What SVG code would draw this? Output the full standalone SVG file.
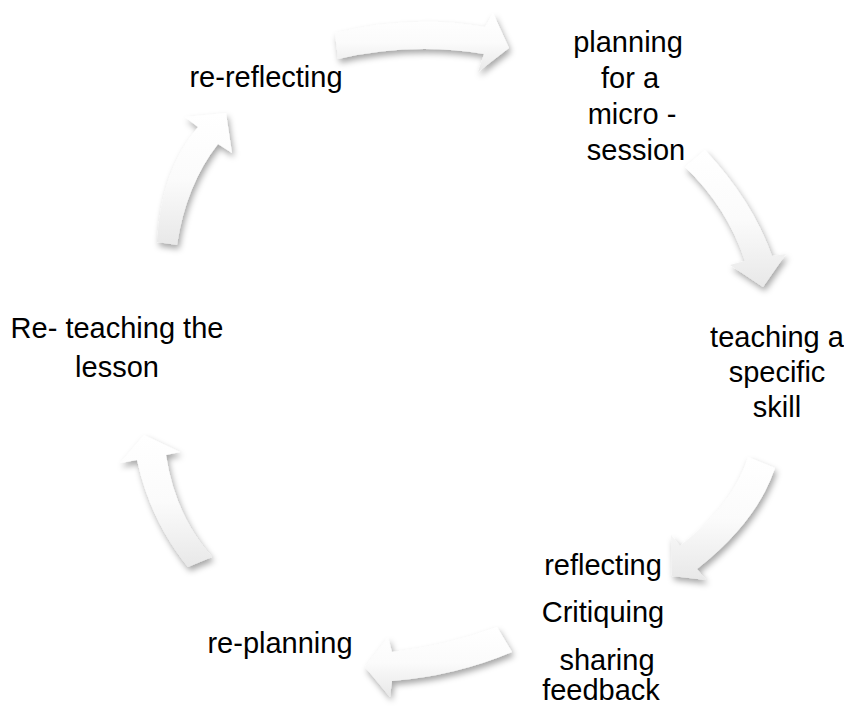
<svg xmlns="http://www.w3.org/2000/svg" width="844" height="710" viewBox="0 0 844 710">
  <style>
    .lbl { font-family: "Liberation Sans", Arial, sans-serif; font-size: 29px; fill: #000; text-anchor: middle; }
    .arr { fill: url(#g); filter: url(#sh); }
  </style>
  <defs>
    <linearGradient id="g" x1="0" y1="0" x2="0" y2="1">
      <stop offset="0" stop-color="#ffffff"/>
      <stop offset="0.5" stop-color="#fbfbfb"/>
      <stop offset="1" stop-color="#e8e8e8"/>
    </linearGradient>
    <filter id="sh" x="-30%" y="-30%" width="160%" height="160%">
      <feDropShadow dx="2" dy="4" stdDeviation="3" flood-color="#000" flood-opacity="0.35"/>
    </filter>
  </defs>
  <rect width="844" height="710" fill="#fff"/>

  <g id="connectors">
    <path class="arr" d="M335,33 Q412,14 485,27 L493,13 L509,48 L478,72 L484,54 Q412,42 338,59 Z"/>
    <path class="arr" d="M685,167 L705,150 Q752,200 772,256 L786,254 L763,287 L730,265 L745,261 Q727,207 685,167 Z"/>
    <path class="arr" d="M748,457 L775,468 Q757,522 697,569 L706,580 L672,576 L671,535 L680,546 Q733,505 748,457 Z"/>
    <path class="arr" d="M497,627 L512,652 Q455,676 392,681 L390,697 L365,667 L388,637 L392,652 Q445,646 497,627 Z"/>
    <path class="arr" d="M188,567 Q150,520 137,460 L120,463 L144,435 L180,452 L166,455 Q175,515 212,557 Z"/>
    <path class="arr" d="M157,242 Q161,170 198,127 L185,117 L226,113 L232,153 L218,144 Q186,185 177,245 Z"/>
  </g>

  <g id="node-planning">
    <text class="lbl" x="628" y="52">planning</text>
    <text class="lbl" x="630" y="88">for a</text>
    <text class="lbl" x="632" y="124">micro -</text>
    <text class="lbl" x="636" y="160">session</text>
  </g>
  <g id="node-teaching">
    <text class="lbl" x="777" y="347">teaching a</text>
    <text class="lbl" x="777" y="382">specific</text>
    <text class="lbl" x="777" y="417">skill</text>
  </g>
  <g id="node-reflecting">
    <text class="lbl" x="603" y="575">reflecting</text>
    <text class="lbl" x="603" y="622">Critiquing</text>
    <text class="lbl" x="607" y="670">sharing</text>
    <text class="lbl" x="601" y="700">feedback</text>
  </g>
  <g id="node-replanning">
    <text class="lbl" x="280" y="653">re-planning</text>
  </g>
  <g id="node-reteaching">
    <text class="lbl" x="117" y="338">Re- teaching the</text>
    <text class="lbl" x="117" y="377">lesson</text>
  </g>
  <g id="node-rereflecting">
    <text class="lbl" x="266" y="87">re-reflecting</text>
  </g>
</svg>
